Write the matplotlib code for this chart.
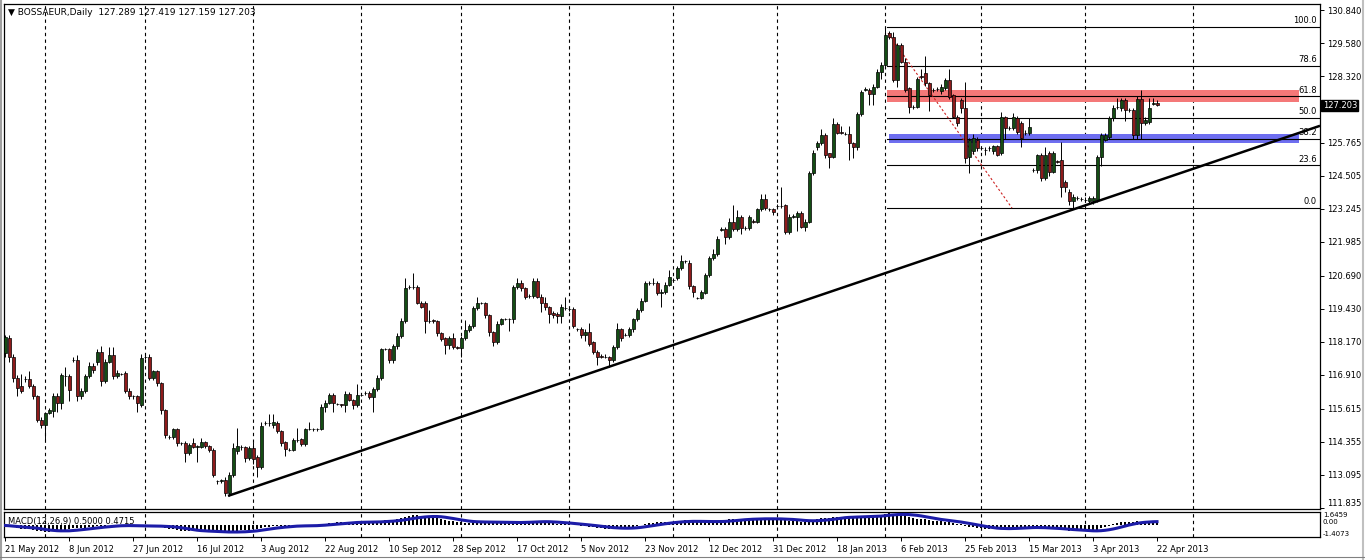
import numpy as np
import pandas as pd
import matplotlib
matplotlib.use("Agg")
import matplotlib.pyplot as plt
from matplotlib.lines import Line2D

# daily OHLC, BOSSAEUR, 21 May 2012 .. 22 Apr 2013 (incl. sunday bars)
opens = [
    117.74, 118.31, 117.61, 116.79, 116.47, 116.74, 116.75, 116.47, 116.09, 115.19,
    115.00, 115.45, 115.52, 116.09, 115.83, 116.86, 116.85, 117.48, 117.49, 116.09,
    116.28, 116.85, 117.26, 117.42, 117.80, 116.66, 117.42, 117.68, 116.85, 116.96,
    116.98, 116.28, 116.10, 116.09, 115.77, 117.60, 117.61, 116.79, 117.04, 116.59,
    115.58, 114.54, 114.53, 114.84, 114.31, 114.30, 113.92, 114.30, 114.17, 114.15,
    114.33, 114.18, 114.03, 112.85, 112.87, 112.90, 112.40, 113.10, 114.00, 114.16,
    114.15, 113.73, 114.11, 113.79, 113.39, 115.08, 115.06, 115.00, 115.09, 114.75,
    114.33, 114.06, 114.05, 114.44, 114.46, 114.28, 114.85, 114.84, 114.84, 114.84,
    115.70, 115.85, 116.15, 115.81, 115.78, 115.77, 116.19, 115.96, 115.77, 116.16,
    116.20, 116.21, 116.08, 116.36, 116.78, 117.90, 117.89, 117.48, 118.02, 118.40,
    118.97, 120.27, 120.27, 120.28, 119.67, 119.67, 118.98, 118.99, 118.97, 118.50,
    118.31, 118.06, 118.31, 117.96, 117.95, 118.31, 118.63, 118.76, 119.46, 119.66,
    119.65, 119.20, 118.56, 118.18, 118.86, 119.04, 119.05, 119.04, 120.26, 120.43,
    120.22, 119.92, 119.93, 120.49, 119.90, 119.65, 119.49, 119.29, 119.24, 119.14,
    119.47, 119.43, 119.42, 118.66, 118.65, 118.44, 118.56, 118.15, 117.80, 117.62,
    117.61, 117.61, 117.48, 117.99, 118.65, 118.44, 118.44, 118.65, 119.04, 119.37,
    119.75, 120.42, 120.42, 120.43, 120.03, 120.09, 120.35, 120.55, 120.60, 120.98,
    121.25, 121.17, 120.31, 119.85, 119.84, 120.05, 120.73, 121.36, 121.53, 122.46,
    122.47, 122.17, 122.76, 122.47, 122.93, 122.51, 122.51, 122.77, 122.76, 123.23,
    123.62, 123.24, 123.23, 123.35, 123.35, 123.40, 122.38, 122.95, 122.95, 123.08,
    122.57, 122.76, 124.63, 125.62, 125.75, 126.07, 125.37, 125.24, 126.49, 126.17,
    126.12, 126.11, 125.75, 125.60, 126.87, 127.80, 127.79, 127.64, 127.92, 128.49,
    128.74, 129.95, 129.82, 128.17, 129.51, 128.87, 127.85, 127.15, 127.15, 128.31,
    128.42, 128.04, 127.79, 127.81, 127.73, 127.85, 128.17, 127.60, 126.77, 127.41,
    127.09, 125.24, 125.44, 125.88, 125.56, 125.51, 125.56, 125.44, 125.63, 125.37,
    126.77, 126.34, 126.33, 126.71, 126.51, 126.16, 126.13, 124.74, 124.73, 125.31,
    124.42, 125.37, 124.67, 125.06, 125.12, 124.29, 123.91, 123.53, 123.68, 123.63,
    123.60, 123.53, 123.53, 123.59, 125.22, 125.88, 126.01, 126.71, 127.12, 127.09,
    127.41, 127.03, 127.03, 126.07, 127.43, 126.52, 126.58, 127.27, 127.289,
]
highs = [
    118.45, 118.45, 117.70, 116.90, 116.95, 116.85, 117.05, 116.55, 116.15, 115.30,
    115.50, 115.65, 116.20, 116.20, 117.00, 117.23, 116.95, 117.60, 117.68, 116.40,
    116.95, 117.40, 117.35, 117.90, 118.00, 117.50, 117.99, 117.99, 117.10, 117.00,
    117.05, 116.40, 116.15, 116.15, 117.70, 117.70, 117.70, 117.10, 117.10, 116.65,
    115.60, 114.60, 114.90, 114.90, 114.35, 114.40, 114.30, 114.50, 114.25, 114.50,
    114.40, 114.25, 114.10, 112.90, 112.95, 113.00, 113.20, 114.30, 114.88, 114.25,
    114.20, 114.20, 114.35, 113.85, 115.10, 115.15, 115.40, 115.40, 115.15, 114.80,
    114.40, 114.10, 114.50, 114.87, 114.50, 114.90, 115.10, 114.90, 114.90, 115.80,
    115.95, 116.20, 116.20, 115.85, 115.80, 116.30, 116.25, 116.00, 116.55, 116.20,
    116.30, 116.30, 116.45, 116.90, 117.95, 117.95, 117.95, 118.10, 118.50, 119.10,
    120.60, 120.35, 120.79, 120.35, 119.75, 119.75, 119.40, 119.05, 119.00, 118.55,
    118.35, 118.40, 118.50, 118.00, 118.40, 119.00, 118.85, 119.55, 119.90, 119.70,
    119.70, 119.25, 118.60, 118.95, 119.10, 119.10, 119.10, 120.35, 120.60, 120.55,
    120.25, 120.00, 120.60, 120.60, 120.00, 119.90, 119.55, 119.35, 119.30, 119.60,
    119.90, 119.50, 119.50, 118.70, 118.75, 118.65, 118.90, 118.20, 117.85, 117.70,
    117.70, 117.65, 118.05, 118.90, 118.70, 118.50, 118.75, 119.10, 119.45, 119.85,
    120.50, 120.50, 120.60, 120.50, 120.20, 120.45, 120.90, 120.60, 121.05, 121.50,
    121.30, 121.30, 120.35, 119.90, 120.15, 120.80, 121.45, 121.70, 122.20, 122.55,
    122.55, 122.90, 123.40, 123.20, 123.00, 122.60, 123.00, 122.85, 123.30, 123.80,
    123.80, 123.30, 123.30, 123.45, 124.10, 123.45, 123.05, 123.05, 123.15, 123.15,
    122.85, 124.70, 125.50, 125.85, 126.30, 126.15, 125.40, 126.70, 126.55, 126.40,
    126.20, 126.40, 125.80, 126.95, 127.80, 127.90, 127.85, 128.00, 128.60, 128.85,
    130.19, 130.05, 130.00, 129.60, 129.60, 129.00, 127.90, 127.20, 128.30, 128.60,
    129.10, 128.10, 127.85, 127.90, 128.00, 128.25, 128.60, 127.65, 126.85, 127.50,
    128.10, 125.95, 126.10, 126.00, 125.60, 125.60, 125.65, 125.70, 125.70, 126.95,
    126.80, 126.40, 126.90, 126.80, 126.60, 126.25, 126.70, 124.80, 125.35, 125.40,
    125.60, 125.45, 125.45, 125.10, 125.80, 124.35, 124.00, 123.80, 123.75, 123.70,
    123.70, 123.75, 123.75, 125.30, 126.15, 126.15, 126.80, 127.20, 127.50, 127.50,
    127.50, 127.10, 127.10, 127.55, 127.80, 126.75, 127.50, 127.50, 127.419,
]
lows = [
    117.60, 117.42, 116.65, 116.09, 116.20, 116.65, 116.40, 116.00, 115.10, 114.90,
    114.37, 115.40, 115.30, 115.50, 115.60, 116.47, 115.90, 117.40, 115.90, 116.00,
    116.20, 116.80, 117.00, 117.30, 116.50, 116.60, 117.35, 116.75, 116.80, 116.90,
    116.20, 116.00, 116.00, 115.50, 115.70, 117.50, 116.70, 116.70, 116.50, 115.40,
    114.50, 114.45, 114.45, 114.20, 114.25, 113.60, 113.85, 114.10, 113.60, 114.10,
    114.10, 113.95, 113.00, 112.75, 112.80, 112.29, 112.30, 113.00, 113.90, 114.05,
    113.60, 113.65, 113.50, 113.00, 113.30, 115.00, 114.95, 114.90, 114.70, 114.20,
    113.80, 114.00, 114.00, 114.35, 114.20, 114.20, 114.80, 114.78, 114.75, 114.80,
    115.50, 115.80, 115.50, 115.75, 115.70, 115.50, 115.90, 115.60, 115.70, 116.10,
    116.15, 116.00, 115.50, 116.30, 116.70, 117.85, 117.35, 117.35, 117.90, 118.30,
    118.90, 120.20, 120.20, 119.60, 119.45, 118.50, 118.90, 118.90, 118.40, 118.20,
    117.70, 117.90, 117.90, 117.90, 117.60, 118.25, 118.55, 118.70, 119.40, 119.60,
    119.10, 118.40, 118.00, 118.10, 118.80, 119.00, 118.60, 118.90, 120.20, 120.10,
    119.80, 119.85, 119.85, 119.85, 119.30, 119.40, 118.90, 119.10, 118.90, 118.90,
    119.40, 119.35, 118.70, 118.60, 118.30, 118.20, 118.00, 117.70, 117.30, 117.55,
    117.55, 117.20, 117.40, 117.90, 118.20, 118.40, 118.35, 118.55, 118.95, 119.30,
    119.70, 120.35, 120.35, 119.95, 119.50, 120.00, 120.30, 120.50, 120.55, 120.90,
    121.20, 120.20, 119.90, 119.80, 119.80, 120.00, 120.65, 121.30, 121.45, 122.40,
    121.90, 122.10, 122.40, 122.40, 122.30, 122.45, 122.45, 122.70, 122.70, 123.15,
    123.20, 123.15, 123.00, 123.30, 123.30, 122.30, 122.30, 122.90, 122.40, 122.50,
    122.40, 122.70, 124.55, 125.50, 125.70, 125.20, 124.80, 125.20, 126.10, 126.10,
    126.05, 125.10, 125.20, 125.50, 126.80, 127.75, 127.20, 127.20, 127.85, 128.20,
    128.70, 129.75, 128.10, 127.90, 128.80, 127.70, 126.90, 127.05, 127.10, 128.20,
    127.95, 127.00, 127.70, 127.75, 127.65, 127.80, 127.45, 126.70, 126.40, 126.90,
    125.00, 124.60, 125.35, 125.45, 125.50, 125.30, 125.45, 125.35, 125.25, 125.30,
    125.90, 126.25, 126.25, 126.10, 125.60, 126.05, 126.05, 124.65, 124.60, 124.30,
    124.35, 124.50, 124.60, 125.00, 123.70, 123.90, 123.40, 123.28, 123.60, 123.55,
    123.50, 123.45, 123.45, 123.50, 124.90, 125.85, 125.90, 126.60, 127.05, 127.00,
    126.60, 126.95, 125.90, 125.90, 125.90, 126.45, 126.50, 127.20, 127.159,
]
closes = [
    118.35, 117.61, 116.79, 116.40, 116.28, 116.76, 116.47, 116.09, 115.19, 115.00,
    115.45, 115.58, 116.09, 115.83, 116.91, 116.85, 116.34, 117.49, 116.09, 116.28,
    116.85, 117.26, 117.10, 117.80, 116.66, 117.42, 117.68, 116.85, 116.98, 116.95,
    116.28, 116.09, 116.09, 115.83, 117.55, 117.61, 116.79, 117.04, 116.59, 115.58,
    114.62, 114.53, 114.84, 114.30, 114.30, 113.92, 114.24, 114.15, 114.18, 114.33,
    114.18, 114.03, 113.10, 112.84, 112.88, 112.40, 113.10, 114.10, 114.18, 114.15,
    113.73, 114.11, 113.70, 113.39, 114.94, 115.09, 115.07, 115.13, 114.75, 114.30,
    114.07, 114.05, 114.43, 114.43, 114.28, 114.84, 114.84, 114.84, 114.85, 115.70,
    115.85, 116.15, 115.83, 115.80, 115.77, 116.19, 115.96, 115.77, 116.15, 116.15,
    116.21, 116.08, 116.36, 116.78, 117.89, 117.89, 117.48, 118.02, 118.40, 118.97,
    120.22, 120.28, 120.28, 119.67, 119.52, 118.95, 118.98, 118.98, 118.50, 118.27,
    118.06, 118.33, 117.99, 117.95, 118.31, 118.63, 118.76, 119.46, 119.65, 119.65,
    119.20, 118.56, 118.18, 118.86, 119.04, 119.04, 119.04, 120.26, 120.43, 120.22,
    119.90, 119.93, 120.49, 119.90, 119.65, 119.49, 119.24, 119.18, 119.14, 119.49,
    119.47, 119.42, 118.78, 118.65, 118.44, 118.56, 118.10, 117.80, 117.61, 117.61,
    117.61, 117.48, 117.99, 118.65, 118.31, 118.44, 118.65, 119.04, 119.37, 119.75,
    120.43, 120.41, 120.43, 120.03, 120.09, 120.35, 120.66, 120.54, 120.98, 121.24,
    121.24, 120.31, 120.09, 119.84, 120.09, 120.73, 121.36, 121.53, 122.09, 122.47,
    122.17, 122.76, 122.47, 122.93, 122.51, 122.51, 122.93, 122.76, 123.23, 123.62,
    123.30, 123.23, 123.11, 123.36, 123.36, 122.38, 122.95, 122.97, 123.08, 122.57,
    122.76, 124.63, 125.40, 125.75, 126.07, 125.31, 125.24, 126.49, 126.16, 126.16,
    126.11, 125.75, 125.60, 126.87, 127.72, 127.81, 127.64, 127.92, 128.49, 128.74,
    129.89, 129.82, 128.17, 129.51, 128.87, 127.79, 127.15, 127.15, 128.20, 128.30,
    128.04, 127.60, 127.79, 127.81, 127.92, 128.17, 127.53, 126.77, 126.52, 127.09,
    125.18, 125.88, 125.94, 125.56, 125.56, 125.50, 125.56, 125.63, 125.31, 126.77,
    126.33, 126.33, 126.77, 126.20, 125.94, 126.16, 126.39, 124.73, 125.31, 124.42,
    125.31, 124.67, 125.37, 125.05, 124.10, 124.10, 123.53, 123.72, 123.68, 123.63,
    123.59, 123.66, 123.66, 125.22, 126.07, 126.07, 126.71, 127.09, 127.13, 127.41,
    127.03, 127.03, 126.07, 127.43, 126.52, 126.64, 127.09, 127.28, 127.203,
]

date_labels = ["21 May 2012", "8 Jun 2012", "27 Jun 2012", "16 Jul 2012", "3 Aug 2012",
               "22 Aug 2012", "10 Sep 2012", "28 Sep 2012", "17 Oct 2012", "5 Nov 2012",
               "23 Nov 2012", "12 Dec 2012", "31 Dec 2012", "18 Jan 2013", "6 Feb 2013",
               "25 Feb 2013", "15 Mar 2013", "3 Apr 2013", "22 Apr 2013"]
month_start_bars = [10, 35, 62, 89, 114, 141, 167, 193, 220, 244, 270, 297]
# 127.060 sits under the current-price box, so it is left out
price_ticks = [130.840, 129.580, 128.320, 125.765, 124.505, 123.245, 121.985,
               120.690, 119.430, 118.170, 116.910, 115.615, 114.355, 113.095, 111.835]

fib_high = 130.19
fib_low = 123.28
fib_levels = [0.0, 23.6, 38.2, 50.0, 61.8, 78.6, 100.0]
trend_pts = ([55.75, 328.75], [112.29, 126.42])
fib_diag = ([220.75, 251.75], [129.96, 123.28])

o = np.array(opens); h = np.array(highs); l = np.array(lows); c = np.array(closes)
n = len(c)
x = np.arange(n)

# MACD(12,26,9) as in MT4: main = ema12-ema26, signal = sma9(main)
cs = pd.Series(c)
macd = cs.ewm(span=12, adjust=False).mean() - cs.ewm(span=26, adjust=False).mean()
signal = macd.rolling(9, min_periods=1).mean()

W, H = 1365, 560
fig = plt.figure(figsize=(W / 100, H / 100), dpi=100)
fig.patch.set_facecolor("white")

def px_box(x0, y0, x1, y1):
    return [x0 / W, 1 - y1 / H, (x1 - x0) / W, (y1 - y0) / H]

ax = fig.add_axes(px_box(4, 4, 1320, 509))
axm = fig.add_axes(px_box(4, 512, 1320, 537), sharex=ax)

xlim = (-0.25, 328.75)
ylim = (111.79, 131.07)
ax.set_xlim(*xlim)
ax.set_ylim(*ylim)

for a in (ax, axm):
    for m in month_start_bars:
        a.axvline(m, color="black", lw=0.8, ls=(0, (3, 3)), zorder=1)
    for s in a.spines.values():
        s.set_linewidth(0.9)

# fibonacci zones + levels
fx0 = 220.5
ax.fill_between([fx0, 323.5], 127.33, 127.79, color="#f47878", lw=0, zorder=2)
ax.fill_between([221.0, 323.5], 125.76, 126.11, color="#6e6ef0", lw=0, zorder=2)
for f in fib_levels:
    p = fib_low + (fib_high - fib_low) * f / 100
    ax.plot([fx0, xlim[1]], [p, p], color="black", lw=0.8, zorder=3)
    ax.text(xlim[1] - 0.8, p + 0.06, f"{f:.1f}", ha="right", va="bottom",
            fontsize=6, zorder=6)
ax.plot(*fib_diag, color="#cc2222", lw=0.8, ls=(0, (2, 2)), zorder=3)

# candles
up = c >= o
ax.vlines(x, l, h, color="black", lw=0.7, zorder=4)
body_lo = np.minimum(o, c)
body_h = np.maximum(np.abs(c - o), 0.001)
ax.bar(x[up], body_h[up], bottom=body_lo[up], width=0.75, color="#144d14",
       edgecolor="black", lw=0.5, zorder=5)
ax.bar(x[~up], body_h[~up], bottom=body_lo[~up], width=0.75, color="#8e1b1b",
       edgecolor="black", lw=0.5, zorder=5)

# trendline
ax.plot(*trend_pts, color="black", lw=1.8, zorder=6, solid_capstyle="butt")

ax.yaxis.tick_right()
ax.set_yticks(price_ticks)
ax.set_yticklabels([f"{v:.3f}" for v in price_ticks])
ax.tick_params(axis="y", length=3, width=0.7, pad=2, labelsize=6)
ax.tick_params(axis="x", bottom=False, labelbottom=False)
# keep lowest price label clear of the MACD panel labels
ax.get_yticklabels()[-1].set_va("bottom")

ax.text(1.002, (127.203 - ylim[0]) / (ylim[1] - ylim[0]), "127.203", transform=ax.transAxes,
        ha="left", va="center", fontsize=6, color="white", zorder=10, clip_on=False,
        bbox=dict(boxstyle="square,pad=0.15", fc="black", ec="black"))

ax.text(0.003, 0.983, "\u25bc BOSSAEUR,Daily  127.289 127.419 127.159 127.203",
        transform=ax.transAxes, ha="left", va="center", fontsize=6.5)

# MACD panel
axm.bar(x, macd, width=0.45, color="black", zorder=3)
axm.plot(x, signal, color="#1c1ca8", lw=2.2, zorder=4)
axm.set_ylim(-1.4073, 1.6459)
axm.yaxis.tick_right()
axm.set_yticks([1.6459, 0.0, -1.4073])
axm.set_yticklabels(["1.6459", "0.00", "-1.4073"])
axm.tick_params(axis="y", length=0, pad=2, labelsize=5)
mlabs = axm.get_yticklabels()
mlabs[0].set_va("top")
mlabs[1].set_va("bottom")
mlabs[2].set_va("bottom")
axm.text(0.003, 0.62, "MACD(12,26,9) 0.5000 0.4715", transform=axm.transAxes,
         ha="left", va="center", fontsize=6)
axm.set_xticks(np.arange(0, 289, 16))
axm.set_xticklabels(date_labels, ha="left")
axm.tick_params(axis="x", length=3, width=0.7, pad=3, labelsize=6)

# window frame bits
fig.add_artist(Line2D([1 / W, 1 / W], [0, 1], color="#a0a0a0", lw=1.5))
fig.add_artist(Line2D([1363 / W, 1363 / W], [0, 1], color="#c0c0c0", lw=1.5))
fig.add_artist(Line2D([0, 1], [1 - 557 / H, 1 - 557 / H], color="#808080", lw=0.8))

fig.savefig("out.png", dpi=100, facecolor="white")
